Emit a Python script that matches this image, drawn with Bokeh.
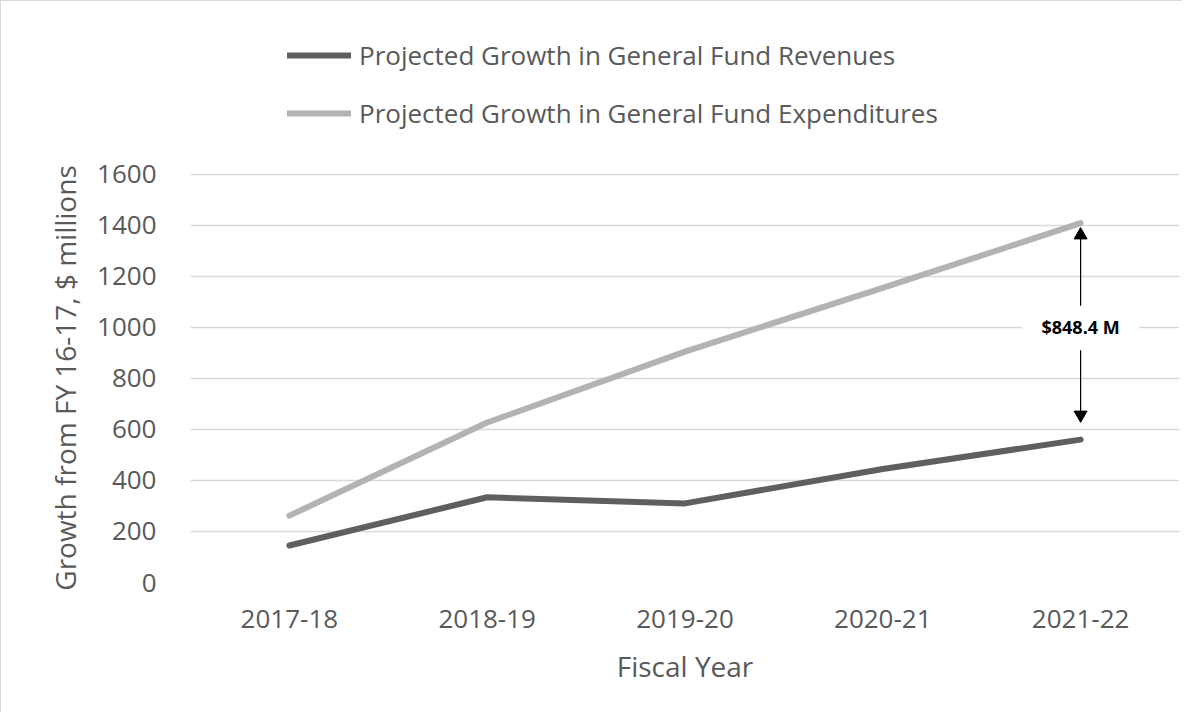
from bokeh.plotting import figure
from bokeh.layouts import column
from bokeh.models import FactorRange, Range1d, SingleIntervalTicker, Legend, LegendItem
from bokeh.core.properties import value
from bokeh.embed import file_html
from bokeh.resources import INLINE

# ---- data ----
years = ["2017-18", "2018-19", "2019-20", "2020-21", "2021-22"]
revenues = [145, 334, 310, 445, 560]
expenditures = [262, 627, 905, 1155, 1408.4]
rev_name = "Projected Growth in General Fund Revenues"
exp_name = "Projected Growth in General Fund Expenditures"
gap_label = "$848.4 M"
y_title = "Growth from FY 16-17, $ millions"
x_title = "Fiscal Year"

FONT = "Open Sans"
TXT = "#595959"
REV_COL = "#5f5f5f"
EXP_COL = "#b3b3b3"
W = 1181

# ---- legend strip (top); proxies reuse the data but lie outside this strip's view ----
pl = figure(width=W, height=130, x_range=FactorRange(factors=years, range_padding=0),
            y_range=Range1d(-2, -1), output_backend="svg", toolbar_location=None,
            x_axis_type=None, y_axis_type=None, min_border=0)
pl.outline_line_color = None
pl.grid.visible = False
lr = pl.line(years, revenues, line_color=REV_COL, line_width=6, line_cap="round")
le = pl.line(years, expenditures, line_color=EXP_COL, line_width=6, line_cap="round")
legend = Legend(items=[LegendItem(label=rev_name, renderers=[lr]),
                       LegendItem(label=exp_name, renderers=[le])],
                location=(97, 0), orientation="vertical",
                glyph_width=64, glyph_height=36, label_height=36, spacing=22,
                label_standoff=8, padding=0, margin=0,
                border_line_color=None, background_fill_alpha=0,
                label_text_font=FONT, label_text_font_size="26px", label_text_color=TXT)
pl.add_layout(legend, "center")

# ---- main chart ----
p = figure(width=W, height=581, x_range=FactorRange(factors=years, range_padding=0),
           y_range=Range1d(0, 1603), output_backend="svg", toolbar_location=None,
           min_border_left=189, min_border_top=42, min_border_right=3, min_border_bottom=130)
p.outline_line_color = None
p.xgrid.grid_line_color = None
p.ygrid.grid_line_color = "#d9d9d9"
p.ygrid.grid_line_width = 1.5

p.yaxis.ticker = SingleIntervalTicker(interval=200)
for ax in (p.xaxis[0], p.yaxis[0]):
    ax.axis_line_color = None
    ax.major_tick_line_color = None
    ax.minor_tick_line_color = None
    ax.major_label_text_font = FONT
    ax.major_label_text_font_size = "26px"
    ax.major_label_text_color = TXT
    ax.axis_label_text_font = FONT
    ax.axis_label_text_font_size = "28px"
    ax.axis_label_text_font_style = "normal"
    ax.axis_label_text_color = TXT
p.yaxis.major_label_standoff = 28
p.yaxis.axis_label = y_title
p.yaxis.axis_label_standoff = 10
p.xaxis.major_label_standoff = 21
p.xaxis.axis_label = x_title
p.xaxis.axis_label_standoff = 16

p.line(years, revenues, line_color=REV_COL, line_width=6, line_cap="round", line_join="round")
p.line(years, expenditures, line_color=EXP_COL, line_width=6, line_cap="round", line_join="round")

# gap annotation at the last year
last = years[-1]
mid = 1000
top_tip = expenditures[-1] - 25
bot_tip = revenues[-1] + 75
p.segment(x0=[last, last], y0=[mid + 85, mid - 90], x1=[last, last], y1=[top_tip - 30, bot_tip + 30],
          line_color="black", line_width=1.2)
p.scatter(x=[last], y=[top_tip - 22], marker="triangle", size=13, fill_color="black", line_color="black")
p.scatter(x=[last], y=[bot_tip + 22], marker="inverted_triangle", size=13, fill_color="black", line_color="black")
p.rect(x=[last], y=[mid], width=117, height=40, width_units="screen", height_units="screen",
       fill_color="white", line_color=None)
p.text(x=[last], y=[mid], text=[gap_label], text_align="center", text_baseline="middle",
       text_font=value(FONT), text_font_style="bold", text_font_size="18px", text_color="black")

layout = column(pl, p, spacing=0)
layout.styles = {"border-top": "1px solid #d9d9d9", "border-left": "1px solid #d9d9d9"}

open("out.html", "w").write(file_html(layout, INLINE))
